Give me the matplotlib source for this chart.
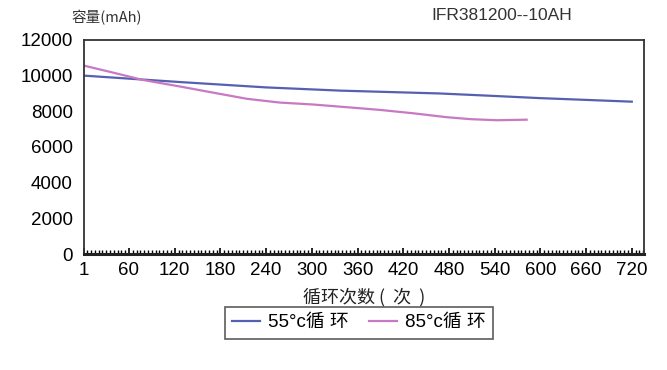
import matplotlib
matplotlib.use("Agg")
import matplotlib.pyplot as plt
from matplotlib.ticker import MultipleLocator

plt.rcParams['font.family'] = ['Liberation Sans', 'Noto Sans CJK SC', 'DejaVu Sans']

# cycle data
cycles_55 = [1, 78, 127, 240, 337, 468, 540, 599, 660, 720]
cap_55 = [10000, 9780, 9640, 9340, 9160, 9000, 8860, 8740, 8640, 8540]

cycles_85 = [1, 40, 78, 127, 170, 215, 258, 302, 346, 389, 433, 477, 508, 543, 582]
cap_85 = [10560, 10160, 9760, 9390, 9050, 8700, 8490, 8380, 8230, 8080, 7890, 7670, 7560, 7500, 7530]

tick_cycles = [1, 60, 120, 180, 240, 300, 360, 420, 480, 540, 600, 660, 720]
y_ticks = [0, 2000, 4000, 6000, 8000, 10000, 12000]

fig = plt.figure(figsize=(6.67, 3.70), dpi=100)
ax = fig.add_axes([0.126, 0.3135, 0.8395, 0.5785])

l1, = ax.plot(cycles_55, cap_55, color='#5560b2', lw=1.6)
l2, = ax.plot(cycles_85, cap_85, color='#c879c4', lw=1.6)

ax.set_xlim(1, 736)
ax.set_ylim(0, 12000)
ax.set_xticks(tick_cycles)
ax.set_xticklabels([str(c) for c in tick_cycles])
ax.set_yticks(y_ticks)
ax.xaxis.set_minor_locator(MultipleLocator(5))
ax.tick_params(axis='x', which='major', direction='in', length=4, width=1.2, labelsize=13.5, pad=6)
ax.tick_params(axis='x', which='minor', direction='in', length=3, width=1.0)
ax.tick_params(axis='y', length=0, labelsize=13.5, pad=8)

for side in ['top', 'right', 'left']:
    ax.spines[side].set_color('#333333')
    ax.spines[side].set_linewidth(1.3)
ax.spines['bottom'].set_color('#222222')
ax.spines['bottom'].set_linewidth(2.2)

ax.set_xlabel('循环次数 (  次  )', family=['Noto Sans CJK SC', 'DejaVu Sans'],
              fontsize=13, fontweight='medium', labelpad=6, color='#222222')

fig.text(0.16, 0.952, '容量(mAh)', family=['Noto Sans CJK SC', 'DejaVu Sans'],
         fontsize=10.5, ha='center', va='center', color='#333333')
fig.text(0.752, 0.958, 'IFR381200--10AH', fontsize=12.5, ha='center', va='center',
         color='#333333')

leg = fig.legend([l1, l2], ['55°c循 环', '85°c循 环'], loc='center',
                 bbox_to_anchor=(0.538, 0.128), ncol=2, frameon=True, fancybox=False,
                 edgecolor='#333333', handlelength=1.5, handletextpad=0.4,
                 columnspacing=1.1, borderpad=0.4,
                 prop={'family': ['Liberation Sans', 'Noto Sans CJK SC'], 'size': 13.5})
leg.get_frame().set_linewidth(1.2)

fig.savefig('out.png', dpi=100)
